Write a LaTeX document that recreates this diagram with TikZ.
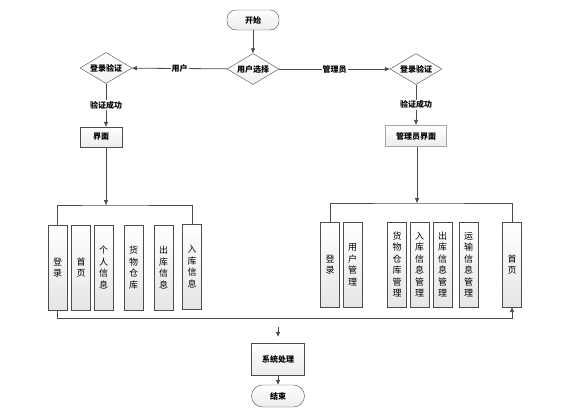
\documentclass[tikz,border=0pt]{standalone}
\usepackage{fontspec}
\setmainfont{Noto Sans CJK SC}
\usetikzlibrary{shapes.geometric,arrows.meta}

\begin{document}
\begin{tikzpicture}[x=1pt, y=-1pt,
    line/.style={draw=gray!60!black, line width=0.8pt},
    arr/.style={line, -{Triangle[length=5pt,width=4pt]}},
    term/.style={draw=gray!60!black, rounded corners=9pt, top color=white, bottom color=gray!15,
        minimum width=52pt, minimum height=20pt, inner sep=0pt, font=\fontsize{8}{9}\selectfont\bfseries},
    judge/.style={diamond, draw=gray!60!black, top color=white, bottom color=gray!10, aspect=1.7,
        minimum width=52pt, minimum height=31pt, inner sep=0pt, font=\fontsize{8}{9}\selectfont\bfseries},
    panel/.style={draw=gray!60!black, top color=white, bottom color=gray!15,
        minimum height=20pt, inner sep=0pt, font=\fontsize{8}{9}\selectfont\bfseries},
    vbox/.style={draw=gray!60!black, top color=white, bottom color=gray!20,
        minimum width=19pt, minimum height=85pt, inner sep=0pt, align=center,
        font=\fontsize{9}{11.5}\selectfont},
    tag/.style={fill=white, inner sep=1pt, font=\fontsize{8}{9}\selectfont\bfseries}]
    \useasboundingbox (0,0) rectangle (586,416);

    % 开始与用户选择
    \node[term] (start) at (253,20) {开始};
    \node[judge] (choose) at (253,69) {用户选择};
    \draw[arr] (start) -- (choose);

    % 左边：用户
    \node[judge] (ulogin) at (106,68) {登录验证};
    \node[panel, minimum width=42pt] (uface) at (101,137) {界面};
    \draw[arr] (choose) -- node[tag, pos=0.5] {用户} (ulogin);
    \draw[arr] (ulogin.south) -- node[tag] {验证成功} (ulogin.south |- uface.north);

    % 右边：管理员
    \node[judge] (alogin) at (416,69) {登录验证};
    \node[panel, minimum width=61pt, minimum height=21pt, draw=gray!70, line width=1.2pt] (aface) at (416,136) {管理员界面};
    \draw[arr] (choose) -- node[tag, pos=0.5] {管理员} (alogin);
    \draw[arr] (alogin) -- node[tag] {验证成功} (aface);

    % 用户功能
    \node[vbox] (u1) at (57.5,267.5) {登\\录};
    \node[vbox] (u2) at (81,267.5) {首\\页};
    \node[vbox] (u3) at (103.5,267.5) {个\\人\\信\\息};
    \node[vbox] (u4) at (133.5,267.5) {货\\物\\仓\\库};
    \node[vbox] (u5) at (163.5,267.5) {出\\库\\信\\息};
    \node[vbox] (u6) at (192,266.5) {入\\库\\信\\息};
    \coordinate (ubrk) at (106,205);
    \draw[arr] (uface.south -| ubrk) -- (ubrk);
    \draw[line] (u1.north) |- (ubrk) -| (u6.north);

    % 管理员功能
    \node[vbox] (a1) at (330,264.5) {登\\录};
    \node[vbox] (a2) at (352.5,264.5) {用\\户\\管\\理};
    \node[vbox] (a3) at (397,264.5) {货\\物\\仓\\库\\管\\理};
    \node[vbox] (a4) at (419.5,264.5) {入\\库\\信\\息\\管\\理};
    \node[vbox] (a5) at (442.5,264.5) {出\\库\\信\\息\\管\\理};
    \node[vbox] (a6) at (468.5,264.5) {运\\输\\信\\息\\管\\理};
    \node[vbox] (a7) at (512,264.5) {首\\页};
    \coordinate (abrk) at (417,203);
    \draw[arr] (aface.south -| abrk) -- (abrk);
    \draw[line] (a1.north) |- (abrk) -| (a7.north);

    % 底部连线
    \draw[arr] (u1.south) -- ++(0,8) -| (a7.south);

    % 系统处理与结束
    \node[panel, minimum width=53pt, minimum height=32pt] (sys) at (278,359) {系统处理};
    \node[term, rounded corners=11pt, minimum width=53pt, minimum height=22pt] (end) at (278,396) {结束};
    \coordinate (sysin) at (278,327);
    \draw[arr] (sysin) -- ([yshift=6pt]sys.north);
    \draw[arr] (sys) -- (end);
\end{tikzpicture}
\end{document}
